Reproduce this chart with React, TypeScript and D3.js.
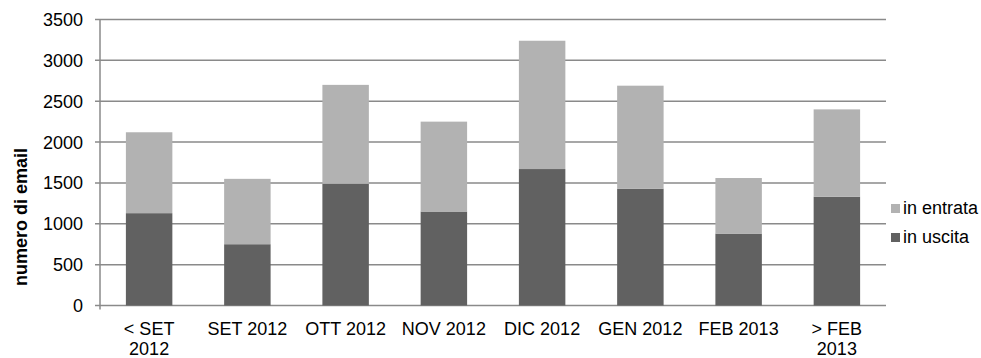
import React from "react";
import * as d3 from "d3";

// Mesi di riferimento e conteggi email per direzione
const categories = ["< SET 2012", "SET 2012", "OTT 2012", "NOV 2012", "DIC 2012", "GEN 2012", "FEB 2013", "> FEB 2013"];
const categoryLines = [["< SET", "2012"], ["SET 2012"], ["OTT 2012"], ["NOV 2012"], ["DIC 2012"], ["GEN 2012"], ["FEB 2013"], ["> FEB", "2013"]];
const inUscita = [1130, 750, 1490, 1150, 1670, 1430, 880, 1330];
const inEntrata = [990, 800, 1210, 1100, 1570, 1260, 680, 1070];
const yTicks = [0, 500, 1000, 1500, 2000, 2500, 3000, 3500];
const seriesNames = ["in entrata", "in uscita"];

const W = 981;
const H = 358;
const FONT = "'Liberation Sans', Arial, sans-serif";
const DARK = "#616161";
const LIGHT = "#b2b2b2";
const GRID = "#8a8a8a";

export default function App() {
  const x = d3.scaleBand<string>().domain(categories).range([100, 886]).paddingInner(0.527).paddingOuter(0.2635);
  const y = d3.scaleLinear().domain([0, 3500]).range([305.5, 19.5]);

  const rows = categories.map((c, i) => ({ cat: c, uscita: inUscita[i], entrata: inEntrata[i] }));
  const stacked = d3.stack<any>().keys(["uscita", "entrata"])(rows);
  const colors: Record<string, string> = { uscita: DARK, entrata: LIGHT };

  return (
    <svg width={W} height={H} style={{ position: "fixed", left: 0, top: 0, background: "#fff" }} fontFamily={FONT}>
      {/* griglia orizzontale */}
      {yTicks.map((t) => (
        <g key={t}>
          <line x1={95} x2={886} y1={y(t)} y2={y(t)} stroke={GRID} strokeWidth={1.5} />
          <text x={83} y={y(t)} dy="0.36em" textAnchor="end" fontSize={18} fill="#000">{t}</text>
        </g>
      ))}
      {/* asse verticale */}
      <line x1={100} x2={100} y1={y(3500)} y2={y(0)} stroke={GRID} strokeWidth={1.5} />
      <line x1={100} x2={100} y1={y(0)} y2={y(0) + 4} stroke={GRID} strokeWidth={1.5} />

      {/* barre impilate */}
      {stacked.map((s) => (
        <g key={s.key} fill={colors[s.key]}>
          {s.map((d, i) => (
            <rect key={i} x={x(categories[i])} width={x.bandwidth()} y={y(d[1])} height={y(d[0]) - y(d[1])} />
          ))}
        </g>
      ))}

      {/* etichette categorie */}
      {categories.map((c, i) => (
        <text key={c} x={(x(c) as number) + x.bandwidth() / 2} y={335} textAnchor="middle" fontSize={18} fill="#000">
          {categoryLines[i].map((line, j) => (
            <tspan key={j} x={(x(c) as number) + x.bandwidth() / 2} dy={j === 0 ? 0 : 20}>{line}</tspan>
          ))}
        </text>
      ))}

      {/* titolo asse y */}
      <text transform={`translate(27, 217) rotate(-90)`} textAnchor="middle" fontSize={18} fontWeight="bold" fill="#000">
        numero di email
      </text>

      {/* legenda */}
      {seriesNames.map((name, i) => (
        <g key={name} transform={`translate(891, ${204 + i * 29})`}>
          <rect width={9} height={9} fill={i === 0 ? LIGHT : DARK} />
          <text x={12} y={10} fontSize={18} fill="#000">{name}</text>
        </g>
      ))}
    </svg>
  );
}
